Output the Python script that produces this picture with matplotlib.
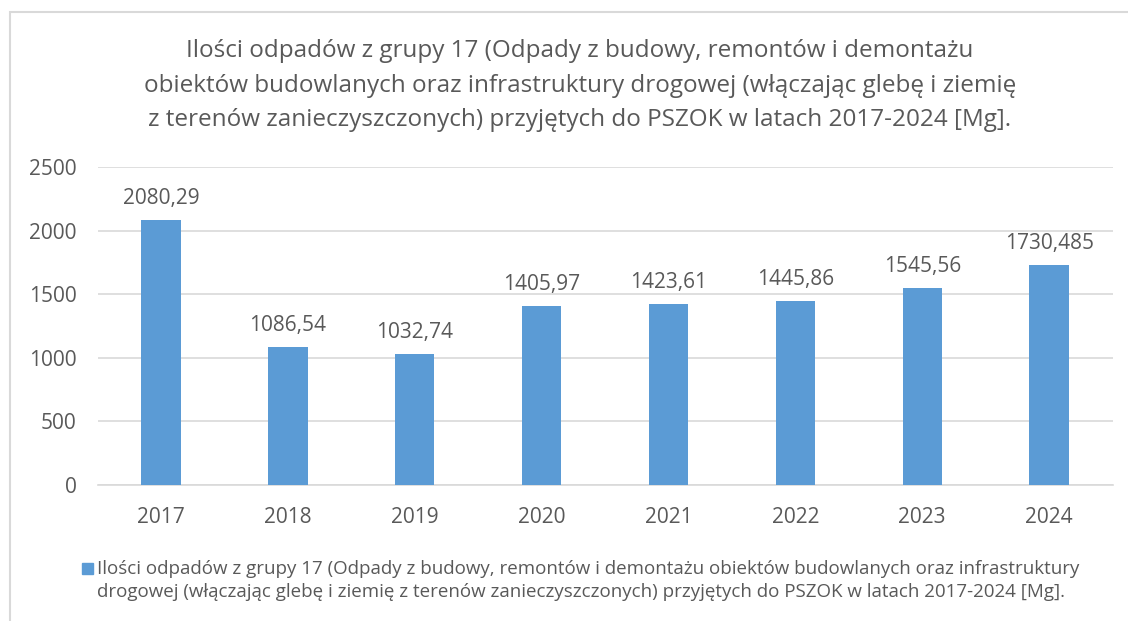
import matplotlib
matplotlib.use("Agg")
import matplotlib.pyplot as plt
from matplotlib.patches import Rectangle

years = ["2017", "2018", "2019", "2020", "2021", "2022", "2023", "2024"]
values = [2080.29, 1086.54, 1032.74, 1405.97, 1423.61, 1445.86, 1545.56, 1730.485]
labels = ["2080,29", "1086,54", "1032,74", "1405,97", "1423,61", "1445,86", "1545,56", "1730,485"]
yticks = [0, 500, 1000, 1500, 2000, 2500]

title = ("Ilości odpadów z grupy 17 (Odpady z budowy, remontów i demontażu\n"
         "obiektów budowlanych oraz infrastruktury drogowej (włączając glebę i ziemię\n"
         "z terenów zanieczyszczonych) przyjętych do PSZOK w latach 2017-2024 [Mg].")
legend_text = ("Ilości odpadów z grupy 17 (Odpady z budowy, remontów i demontażu obiektów budowlanych oraz infrastruktury\n"
               "drogowej (włączając glebę i ziemię z terenów zanieczyszczonych) przyjętych do PSZOK w latach 2017-2024 [Mg].")

plt.rcParams['font.family'] = ['Open Sans', 'DejaVu Sans']
W, H = 1128, 621
fig = plt.figure(figsize=(W / 100, H / 100), dpi=100)
fig.patch.set_facecolor("white")

# chart border (cropped on right/bottom)
fig.add_artist(Rectangle((10 / W, -0.1), 1.2, (H - 12) / H + 0.1, transform=fig.transFigure,
                         fill=False, edgecolor="#d9d9d9", linewidth=1.5))

left, right = 97.6, 1112.5
top, bottom = 167, 485
ax = fig.add_axes([left / W, 1 - bottom / H, (right - left) / W, (bottom - top) / H])
color_text = "#595959"
x = range(len(years))
bars = ax.bar(x, values, width=0.31, color="#5b9bd5", zorder=3)
ax.set_xlim(-0.5, len(years) - 0.5)
ax.set_ylim(0, 2500)
ax.set_yticks(yticks)
ax.set_xticks(list(x))
ax.set_xticklabels(years)
ax.tick_params(axis="both", length=0, labelsize=15, colors=color_text)
ax.tick_params(axis="y", pad=15)
ax.tick_params(axis="x", pad=16)
ax.grid(axis="y", color="#d9d9d9", linewidth=1.2, zorder=0)
for s in ["top", "right", "left"]:
    ax.spines[s].set_visible(False)
ax.spines["bottom"].set_color("#d9d9d9")
ax.spines["bottom"].set_linewidth(1.2)
for i, (v, lab) in enumerate(zip(values, labels)):
    ax.annotate(lab, (i, v), xytext=(0, 8), textcoords="offset points",
                ha="center", va="bottom", fontsize=15, color=color_text)

fig.text(580 / W, 1 - 85.5 / H, title, ha="center", va="center", fontsize=17.5,
         color=color_text, linespacing=1.58)

fig.add_artist(Rectangle((82 / W, 1 - 574 / H), 11 / W, 11 / H, transform=fig.transFigure,
                         color="#5b9bd5"))
fig.text(97 / W, 1 - 580.5 / H, legend_text, ha="left", va="center", fontsize=13.5,
         color=color_text, linespacing=1.42)

fig.savefig("out.png", dpi=100)
